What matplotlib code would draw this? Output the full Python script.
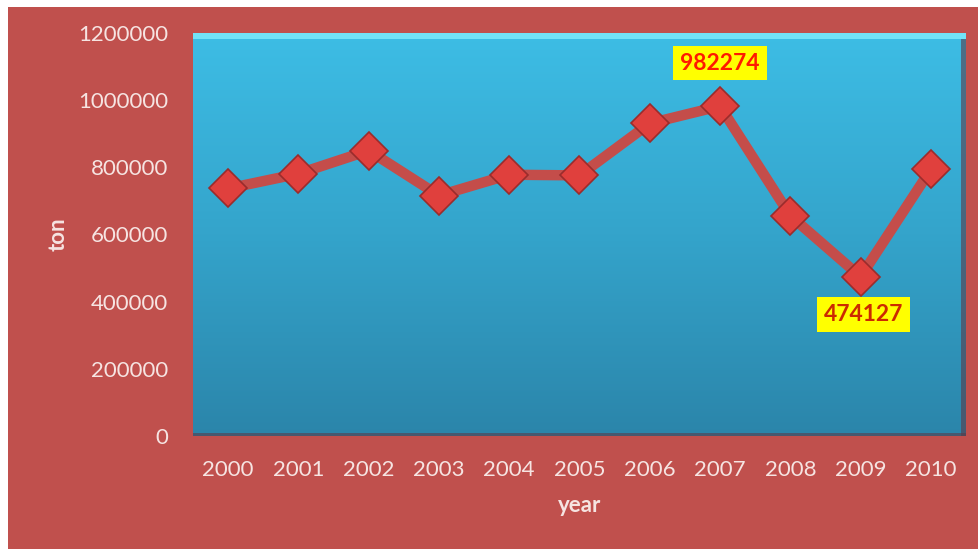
import numpy as np
import matplotlib.pyplot as plt
from matplotlib.colors import LinearSegmentedColormap
from matplotlib.patches import Rectangle

# Annual production (ton)
years = ['2000', '2001', '2002', '2003', '2004', '2005',
         '2006', '2007', '2008', '2009', '2010']
tons = [737000, 781000, 850000, 716000, 778000, 776000,
        931000, 982274, 656000, 474127, 794000]
y_ticks = [0, 200000, 400000, 600000, 800000, 1000000, 1200000]

red = '#c0504d'
label_col = '#f6e4e2'
plt.rcParams['font.family'] = ['Lato', 'DejaVu Sans']

fig = plt.figure(figsize=(9.79, 5.49), dpi=100, facecolor='white')
# red chart area with a thin white margin on the top and left
fig.patches.append(Rectangle((8 / 979, 0), 1, 1 - 7 / 549, transform=fig.transFigure,
                             facecolor=red, edgecolor='none', zorder=-10))

ax = fig.add_axes([193 / 979, 1 - 436 / 549, 773 / 979, 403 / 549])
ax.set_xlim(-0.5, 10.5)
ax.set_ylim(0, 1200000)

# blue gradient plot area
cmap = LinearSegmentedColormap.from_list('plotbg', ['#2b85aa', '#34a4cb', '#3dbde5'])
grad = np.linspace(0, 1, 256).reshape(-1, 1)
ax.imshow(grad, cmap=cmap, aspect='auto', origin='lower',
          extent=(-0.5, 10.5, 0, 1200000), zorder=0)
# bevel highlight along the top, shadow on the right and bottom
ax.add_patch(Rectangle((0, 0.985), 1, 0.015, transform=ax.transAxes,
                       facecolor='#72e2f7', edgecolor='none', zorder=1))
ax.add_patch(Rectangle((0.993, 0), 0.007, 0.985, transform=ax.transAxes,
                       facecolor='#5a3b48', edgecolor='none', alpha=0.6, zorder=1))
ax.add_patch(Rectangle((0, 0), 1, 0.008, transform=ax.transAxes,
                       facecolor='#5a3b48', edgecolor='none', alpha=0.6, zorder=1))

x = np.arange(len(years))
ax.plot(x, tons, color='#c44d4a', lw=7.5, solid_joinstyle='round', zorder=3)
ax.plot(x, tons, linestyle='none', marker='D', markersize=19,
        markerfacecolor='#e0403d', markeredgecolor='#9a2c2c', markeredgewidth=1.2, zorder=4)

# value callouts for the maximum and minimum years
ax.annotate(f'{tons[7]}', (x[7], tons[7]), xytext=(0, 31), textcoords='offset points',
            ha='center', va='center', fontsize=16.5, fontweight='bold', color='#ff1a00',
            bbox=dict(boxstyle='square,pad=0.3', facecolor='#ffff00', edgecolor='none'),
            zorder=5)
ax.annotate(f'{tons[9]}', (x[9], tons[9]), xytext=(2, -27), textcoords='offset points',
            ha='center', va='center', fontsize=16.5, fontweight='bold', color='#cc2a00',
            bbox=dict(boxstyle='square,pad=0.3', facecolor='#ffff00', edgecolor='none'),
            zorder=5)

ax.set_xticks(x)
ax.set_xticklabels(years)
ax.set_yticks(y_ticks)
ax.set_yticklabels([str(v) for v in y_ticks])
ax.tick_params(axis='both', length=0, labelsize=16, labelcolor=label_col)
ax.tick_params(axis='x', pad=17)
ax.tick_params(axis='y', pad=18)
for s in ax.spines.values():
    s.set_visible(False)

ax.set_xlabel('year', fontsize=16, fontweight='bold', color=label_col, labelpad=11)
ax.set_ylabel('ton', fontsize=16, fontweight='bold', color=label_col, labelpad=7)

fig.savefig('out.png', dpi=100, facecolor=fig.get_facecolor())
